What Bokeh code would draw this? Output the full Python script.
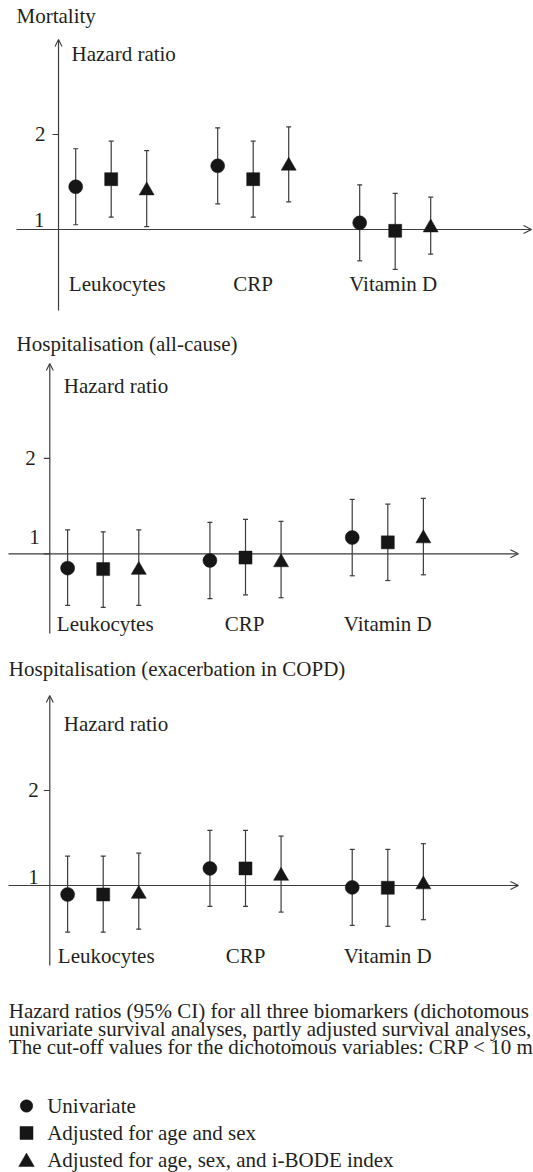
from bokeh.plotting import figure
from bokeh.layouts import column
from bokeh.models import Arrow, OpenHead, Range1d
from bokeh.core.properties import value
from bokeh.embed import file_html
from bokeh.resources import INLINE

# ---------------- data ----------------
categories = ["Leukocytes", "CRP", "Vitamin D"]
models = ["Univariate", "Adjusted for age and sex", "Adjusted for age, sex, and i-BODE index"]
model_markers = ["circle", "square", "triangle"]
tick_values = [1, 2]
tick_labels = ["1", "2"]
panel_titles = ["Mortality", "Hospitalisation (all-cause)", "Hospitalisation (exacerbation in COPD)"]
axis_title = "Hazard ratio"

# order within each list: for each category -> [univariate, age+sex, age+sex+i-BODE]
mort_hr = [1.45, 1.53, 1.41, 1.67, 1.53, 1.67, 1.07, 0.986, 1.02]
mort_lo = [1.05, 1.13, 1.03, 1.27, 1.13, 1.29, 0.67, 0.58, 0.74]
mort_hi = [1.85, 1.93, 1.83, 2.07, 1.93, 2.08, 1.47, 1.38, 1.34]

hosp_hr = [0.85, 0.84, 0.83, 0.93, 0.96, 0.91, 1.17, 1.12, 1.16]
hosp_lo = [0.46, 0.44, 0.46, 0.53, 0.57, 0.54, 0.77, 0.72, 0.78]
hosp_hi = [1.25, 1.23, 1.25, 1.33, 1.36, 1.34, 1.57, 1.52, 1.58]

copd_hr = [0.905, 0.905, 0.91, 1.18, 1.18, 1.10, 0.98, 0.976, 1.01]
copd_lo = [0.51, 0.51, 0.54, 0.78, 0.78, 0.72, 0.58, 0.57, 0.64]
copd_hi = [1.31, 1.31, 1.34, 1.58, 1.58, 1.52, 1.38, 1.38, 1.44]

caption_lines = [
    "Hazard ratios (95% CI) for all three biomarkers (dichotomous",
    "univariate survival analyses, partly adjusted survival analyses,",
    "The cut-off values for the dichotomous variables: CRP < 10 m",
]

# ---------------- style ----------------
FONT = value("Liberation Serif")
FSIZE = value("21px")
TXT = "#231f20"
LINE = "#3c3c3c"
MARK = "#161616"
W = 533
marker_sizes = {"circle": 14, "square": 13, "triangle": 15}
offsets = [-0.25, 0.0, 0.25]


def panel(title, hr, lo, hi, height, xr, yr, geo):
    p = figure(width=W, height=height, x_range=Range1d(*xr), y_range=Range1d(*yr),
               output_backend="svg", toolbar_location=None, min_border=0,
               x_axis_type=None, y_axis_type=None, title=None)
    p.grid.visible = False
    p.outline_line_color = None

    yax = geo["yaxis_x"]
    # axes as arrows
    p.add_layout(Arrow(end=OpenHead(size=7, line_width=1.1, line_color=LINE),
                       x_start=yax, y_start=geo["yaxis_bottom"], x_end=yax, y_end=geo["yaxis_top"],
                       line_color=LINE, line_width=1.2, level="underlay"))
    p.add_layout(Arrow(end=OpenHead(size=8, line_width=1.1, line_color=LINE),
                       x_start=geo["xaxis_left"], y_start=1, x_end=geo["xaxis_right"], y_end=1,
                       line_color=LINE, line_width=1.2, level="underlay"))
    # ticks
    tick_len = 6.0 / geo["px_x"]
    p.segment(x0=[yax - tick_len] * len(tick_values), y0=tick_values,
              x1=[yax] * len(tick_values), y1=tick_values, line_color=LINE, line_width=1.2)
    p.text(x=[yax] * len(tick_values), y=tick_values, text=tick_labels,
           x_offset=geo["tick_dx"], y_offset=geo["tick_dy"],
           text_font=FONT, text_font_size=FSIZE, text_color=TXT,
           text_align="right", text_baseline="middle")
    # titles
    p.text(x=[geo["title_x"]], y=[geo["title_y"]], text=[title], text_font=FONT,
           text_font_size=FSIZE, text_color=TXT, text_align="left", text_baseline="middle")
    p.text(x=[yax], y=[geo["hr_y"]], text=[axis_title], x_offset=[geo["hr_dx"]], text_font=FONT,
           text_font_size=FSIZE, text_color=TXT, text_align="left", text_baseline="middle")
    # category labels
    p.text(x=[1, 2, 3], y=[geo["cat_y"]] * 3, text=categories, x_offset=geo["cat_dx"],
           text_font=FONT, text_font_size=FSIZE, text_color=TXT,
           text_align="center", text_baseline="middle")

    # error bars + markers
    for j, mk in enumerate(model_markers):
        idx = [i * 3 + j for i in range(len(categories))]
        xs = [i + 1 + offsets[j] for i in range(len(categories))]
        los = [lo[k] for k in idx]
        his = [hi[k] for k in idx]
        hrs = [hr[k] for k in idx]
        p.segment(x0=xs, y0=los, x1=xs, y1=his, line_color=LINE, line_width=1.2)
        p.scatter(x=xs + xs, y=los + his, marker="dash", size=5, line_color=LINE, line_width=1.2)
        p.scatter(x=xs, y=hrs, marker=mk, size=marker_sizes[mk],
                  fill_color=MARK, line_color=MARK, line_width=0.5)
    return p


p1 = panel(panel_titles[0], mort_hr, mort_lo, mort_hi, 320,
           (0.2204, 3.974), (0.04211, 3.4105),
           dict(yaxis_x=0.629, yaxis_bottom=0.147, yaxis_top=3.0,
                xaxis_left=0.333, xaxis_right=3.96, px_x=142.0,
                tick_dx=[-14, -13], tick_dy=[-9, 0],
                title_x=0.333, title_y=3.2526, hr_y=2.8526, hr_dx=13,
                cat_y=0.4284, cat_dx=[6, 0, -2]))

p2 = panel(panel_titles[1], hosp_hr, hosp_lo, hosp_hi, 325,
           (0.2783, 4.0239), (0.0398, 3.443),
           dict(yaxis_x=0.6247, yaxis_bottom=0.165, yaxis_top=2.993,
                xaxis_left=0.3345, xaxis_right=3.918, px_x=142.3,
                tick_dx=[-10, -14], tick_dy=[-17, 0],
                title_x=0.391, title_y=3.1948, hr_y=2.7623, hr_dx=14,
                cat_y=0.267, cat_dx=[2, -1, 0]))

p3 = panel(panel_titles[2], copd_hr, copd_lo, copd_hi, 330,
           (0.2783, 4.0239), (0.0526, 3.526),
           dict(yaxis_x=0.6247, yaxis_bottom=0.158, yaxis_top=3.0,
                xaxis_left=0.3345, xaxis_right=3.918, px_x=142.3,
                tick_dx=[-11, -11], tick_dy=[-8, 0],
                title_x=0.337, title_y=3.2768, hr_y=2.6947, hr_dx=14,
                cat_y=0.2579, cat_dx=[3, 0, 0]))

# caption + legend (pixel-like ranges, y downwards)
CH = 197
pc = figure(width=W, height=CH, x_range=Range1d(0, W), y_range=Range1d(CH, 0),
            output_backend="svg", toolbar_location=None, min_border=0,
            x_axis_type=None, y_axis_type=None, title=None)
pc.grid.visible = False
pc.outline_line_color = None
pc.text(x=[8.3] * 3, y=[35, 53, 71], text=caption_lines, text_font=FONT, text_font_size=FSIZE,
        text_color=TXT, text_align="left", text_baseline="middle")
legend_y = [130.5, 157.5, 184.5]
legend_sizes = [12.5, 13, 15.5]
legend_dy = [0, 0, 2]
for j, mk in enumerate(model_markers):
    pc.scatter(x=[26], y=[legend_y[j] + legend_dy[j]], marker=mk, size=legend_sizes[j],
               fill_color=MARK, line_color=MARK, line_width=0.5)
pc.text(x=[46.7] * 3, y=legend_y, text=models, text_font=FONT,
        text_font_size=FSIZE, text_color=TXT, text_align="left", text_baseline="middle")

layout = column(p1, p2, p3, pc, spacing=0)
open("out.html", "w").write(file_html(layout, INLINE))
